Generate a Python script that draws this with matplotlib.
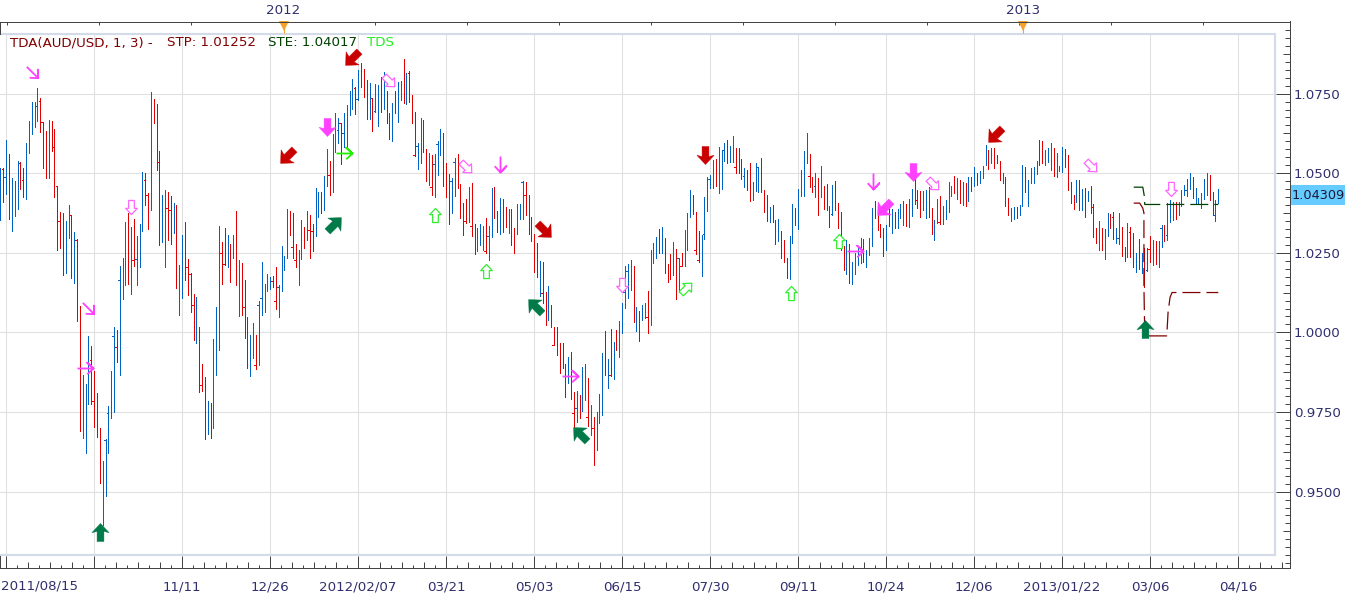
import numpy as np
import matplotlib
matplotlib.use("Agg")
import matplotlib.pyplot as plt
from matplotlib.markers import MarkerStyle
from matplotlib.patches import Rectangle
from matplotlib.path import Path
from matplotlib.transforms import Affine2D

# daily bars of AUD/USD
highs = [
    1.0516, 1.0516, 1.0604, 1.0560, 1.0485, 1.0476, 1.0539, 1.0535, 1.0516, 1.0595,
    1.0664, 1.0724, 1.0724, 1.0767, 1.0736, 1.0658, 1.0633, 1.0667, 1.0664, 1.0639,
    1.0460, 1.0378, 1.0375, 1.0350, 1.0400, 1.0369, 1.0316, 1.0294, 1.0083, 0.9866,
    0.9838, 0.9989, 0.9958, 0.9879, 0.9810, 0.9700, 0.9596, 0.9666, 0.9769, 0.9879,
    1.0017, 1.0008, 1.0209, 1.0234, 1.0347, 1.0375, 1.0331, 1.0356, 1.0303, 1.0341,
    1.0504, 1.0501, 1.0438, 1.0755, 1.0733, 1.0717, 1.0570, 1.0432, 1.0447, 1.0441,
    1.0429, 1.0407, 1.0400, 1.0212, 1.0306, 1.0347, 1.0231, 1.0187, 1.0121, 1.0111,
    1.0017, 0.9901, 0.9860, 0.9785, 0.9779, 0.9980, 1.0080, 1.0334, 1.0284, 1.0328,
    1.0306, 1.0278, 1.0306, 1.0381, 1.0228, 1.0218, 1.0165, 1.0049, 0.9992, 1.0030,
    0.9992, 1.0099, 1.0221, 1.0152, 1.0184, 1.0174, 1.0177, 1.0206, 1.0149, 1.0272,
    1.0240, 1.0388, 1.0381, 1.0375, 1.0278, 1.0259, 1.0353, 1.0331, 1.0381, 1.0369,
    1.0341, 1.0454, 1.0441, 1.0441, 1.0491, 1.0576, 1.0539, 1.0623, 1.0689, 1.0673,
    1.0658, 1.0689, 1.0714, 1.0758, 1.0796, 1.0771, 1.0824, 1.0846, 1.0827, 1.0793,
    1.0783, 1.0736, 1.0780, 1.0777, 1.0802, 1.0818, 1.0758, 1.0689, 1.0721, 1.0758,
    1.0787, 1.0790, 1.0859, 1.0815, 1.0821, 1.0746, 1.0692, 1.0595, 1.0673, 1.0667,
    1.0576, 1.0564, 1.0557, 1.0560, 1.0601, 1.0639, 1.0626, 1.0532, 1.0498, 1.0485,
    1.0548, 1.0560, 1.0466, 1.0407, 1.0419, 1.0457, 1.0469, 1.0341, 1.0328, 1.0341,
    1.0334, 1.0359, 1.0334, 1.0454, 1.0457, 1.0381, 1.0422, 1.0419, 1.0394, 1.0388,
    1.0388, 1.0328, 1.0403, 1.0403, 1.0476, 1.0473, 1.0432, 1.0363, 1.0309, 1.0281,
    1.0224, 1.0221, 1.0127, 1.0146, 1.0086, 1.0017, 1.0017, 0.9967, 0.9967, 0.9901,
    0.9923, 0.9939, 0.9813, 0.9816, 0.9804, 0.9892, 0.9901, 0.9857, 0.9772, 0.9735,
    0.9750, 0.9807, 0.9936, 1.0005, 0.9917, 1.0011, 0.9970, 1.0008, 1.0036, 1.0093,
    1.0209, 1.0215, 1.0228, 1.0209, 1.0080, 1.0067, 1.0086, 1.0093, 1.0130, 1.0259,
    1.0281, 1.0300, 1.0325, 1.0331, 1.0297, 1.0215, 1.0246, 1.0284, 1.0262, 1.0234,
    1.0250, 1.0322, 1.0375, 1.0447, 1.0432, 1.0378, 1.0319, 1.0306, 1.0425, 1.0488,
    1.0494, 1.0542, 1.0545, 1.0582, 1.0573, 1.0595, 1.0604, 1.0586, 1.0617, 1.0579,
    1.0579, 1.0545, 1.0516, 1.0510, 1.0532, 1.0473, 1.0532, 1.0520, 1.0548, 1.0447,
    1.0432, 1.0394, 1.0400, 1.0353, 1.0356, 1.0319, 1.0290, 1.0234, 1.0303, 1.0403,
    1.0391, 1.0451, 1.0510, 1.0570, 1.0626, 1.0560, 1.0488, 1.0501, 1.0485, 1.0523,
    1.0460, 1.0466, 1.0397, 1.0463, 1.0476, 1.0407, 1.0378, 1.0272, 1.0290, 1.0278,
    1.0221, 1.0250, 1.0268, 1.0297, 1.0294, 1.0259, 1.0297, 1.0391, 1.0413, 1.0385,
    1.0341, 1.0328, 1.0337, 1.0407, 1.0388, 1.0378, 1.0388, 1.0403, 1.0413, 1.0403,
    1.0419, 1.0451, 1.0482, 1.0447, 1.0444, 1.0444, 1.0447, 1.0457, 1.0391, 1.0353,
    1.0419, 1.0429, 1.0397, 1.0416, 1.0473, 1.0460, 1.0491, 1.0485, 1.0479, 1.0473,
    1.0469, 1.0488, 1.0488, 1.0520, 1.0501, 1.0507, 1.0523, 1.0589, 1.0573, 1.0579,
    1.0579, 1.0557, 1.0539, 1.0501, 1.0488, 1.0422, 1.0391, 1.0394, 1.0394, 1.0400,
    1.0526, 1.0520, 1.0479, 1.0516, 1.0520, 1.0539, 1.0604, 1.0601, 1.0573, 1.0579,
    1.0595, 1.0579, 1.0564, 1.0523, 1.0582, 1.0576, 1.0557, 1.0473, 1.0432, 1.0479,
    1.0479, 1.0451, 1.0454, 1.0444, 1.0460, 1.0403, 1.0328, 1.0350, 1.0328, 1.0325,
    1.0375, 1.0372, 1.0378, 1.0328, 1.0375, 1.0331, 1.0268, 1.0344, 1.0331, 1.0312,
    1.0250, 1.0294, 1.0250, 1.0265, 1.0265, 1.0303, 1.0290, 1.0287, 1.0287, 1.0337,
    1.0337, 1.0407, 1.0416, 1.0410, 1.0410, 1.0410, 1.0447, 1.0463, 1.0482, 1.0501,
    1.0488, 1.0454, 1.0422, 1.0438, 1.0482, 1.0501, 1.0494, 1.0441, 1.0416, 1.0451,
]
lows = [
    1.0353, 1.0410, 1.0435, 1.0356, 1.0319, 1.0366, 1.0388, 1.0451, 1.0425, 1.0419,
    1.0564, 1.0623, 1.0645, 1.0664, 1.0629, 1.0516, 1.0485, 1.0485, 1.0570, 1.0425,
    1.0259, 1.0265, 1.0181, 1.0187, 1.0297, 1.0171, 1.0155, 1.0036, 0.9691, 0.9669,
    0.9622, 0.9775, 0.9775, 0.9703, 0.9672, 0.9527, 0.9395, 0.9487, 0.9622, 0.9732,
    0.9750, 0.9907, 0.9866, 1.0105, 1.0149, 1.0152, 1.0121, 1.0209, 1.0149, 1.0206,
    1.0319, 1.0400, 1.0325, 1.0385, 1.0658, 1.0510, 1.0275, 1.0284, 1.0206, 1.0290,
    1.0278, 1.0312, 1.0140, 1.0055, 1.0108, 1.0165, 1.0118, 1.0064, 0.9976, 0.9967,
    0.9813, 0.9816, 0.9666, 0.9681, 0.9669, 0.9700, 0.9866, 0.9945, 1.0152, 1.0212,
    1.0206, 1.0159, 1.0234, 1.0149, 1.0052, 1.0055, 0.9983, 0.9888, 0.9863, 0.9920,
    0.9885, 0.9898, 1.0055, 1.0064, 1.0130, 1.0137, 1.0143, 1.0074, 1.0049, 1.0130,
    1.0196, 1.0234, 1.0306, 1.0234, 1.0206, 1.0149, 1.0231, 1.0265, 1.0290, 1.0234,
    1.0256, 1.0303, 1.0363, 1.0375, 1.0385, 1.0460, 1.0432, 1.0441, 1.0567, 1.0595,
    1.0529, 1.0582, 1.0579, 1.0683, 1.0702, 1.0686, 1.0730, 1.0771, 1.0739, 1.0670,
    1.0670, 1.0633, 1.0692, 1.0648, 1.0692, 1.0702, 1.0658, 1.0608, 1.0601, 1.0689,
    1.0661, 1.0730, 1.0721, 1.0717, 1.0724, 1.0658, 1.0554, 1.0513, 1.0532, 1.0567,
    1.0476, 1.0463, 1.0432, 1.0425, 1.0494, 1.0557, 1.0460, 1.0425, 1.0341, 1.0375,
    1.0429, 1.0454, 1.0359, 1.0306, 1.0344, 1.0347, 1.0303, 1.0246, 1.0256, 1.0275,
    1.0259, 1.0250, 1.0228, 1.0300, 1.0359, 1.0316, 1.0309, 1.0316, 1.0331, 1.0312,
    1.0275, 1.0250, 1.0309, 1.0356, 1.0356, 1.0369, 1.0309, 1.0287, 1.0190, 1.0174,
    1.0115, 1.0093, 1.0024, 1.0039, 1.0017, 0.9961, 0.9929, 0.9873, 0.9888, 0.9797,
    0.9841, 0.9791, 0.9700, 0.9719, 0.9732, 0.9753, 0.9788, 0.9706, 0.9678, 0.9584,
    0.9631, 0.9716, 0.9741, 0.9866, 0.9826, 0.9863, 0.9854, 0.9945, 0.9923, 0.9998,
    1.0077, 1.0108, 1.0133, 1.0033, 1.0005, 0.9973, 1.0039, 1.0045, 0.9998, 1.0024,
    1.0218, 1.0234, 1.0250, 1.0250, 1.0187, 1.0159, 1.0168, 1.0181, 1.0105, 1.0127,
    1.0209, 1.0209, 1.0259, 1.0363, 1.0372, 1.0246, 1.0221, 1.0177, 1.0294, 1.0381,
    1.0454, 1.0454, 1.0460, 1.0438, 1.0451, 1.0538, 1.0532, 1.0535, 1.0535, 1.0501,
    1.0501, 1.0482, 1.0457, 1.0447, 1.0413, 1.0416, 1.0444, 1.0441, 1.0441, 1.0378,
    1.0350, 1.0347, 1.0347, 1.0278, 1.0287, 1.0234, 1.0221, 1.0171, 1.0168, 1.0281,
    1.0337, 1.0325, 1.0429, 1.0429, 1.0532, 1.0457, 1.0441, 1.0425, 1.0369, 1.0425,
    1.0388, 1.0385, 1.0331, 1.0369, 1.0385, 1.0328, 1.0259, 1.0196, 1.0184, 1.0155,
    1.0152, 1.0184, 1.0212, 1.0218, 1.0221, 1.0206, 1.0243, 1.0272, 1.0359, 1.0322,
    1.0300, 1.0240, 1.0259, 1.0334, 1.0312, 1.0328, 1.0328, 1.0359, 1.0337, 1.0334,
    1.0331, 1.0366, 1.0403, 1.0391, 1.0363, 1.0385, 1.0359, 1.0363, 1.0309, 1.0290,
    1.0344, 1.0341, 1.0341, 1.0356, 1.0378, 1.0429, 1.0438, 1.0419, 1.0407, 1.0400,
    1.0397, 1.0413, 1.0444, 1.0460, 1.0463, 1.0469, 1.0485, 1.0526, 1.0513, 1.0532,
    1.0516, 1.0532, 1.0479, 1.0469, 1.0397, 1.0369, 1.0350, 1.0356, 1.0359, 1.0369,
    1.0397, 1.0441, 1.0397, 1.0469, 1.0469, 1.0498, 1.0526, 1.0532, 1.0526, 1.0535,
    1.0510, 1.0491, 1.0488, 1.0507, 1.0504, 1.0520, 1.0447, 1.0407, 1.0388, 1.0410,
    1.0385, 1.0385, 1.0363, 1.0413, 1.0375, 1.0300, 1.0281, 1.0259, 1.0259, 1.0231,
    1.0303, 1.0328, 1.0294, 1.0281, 1.0278, 1.0240, 1.0224, 1.0237, 1.0237, 1.0206,
    1.0190, 1.0199, 1.0187, 1.0143, 1.0193, 1.0221, 1.0212, 1.0215, 1.0206, 1.0268,
    1.0287, 1.0290, 1.0347, 1.0353, 1.0356, 1.0369, 1.0397, 1.0432, 1.0429, 1.0451,
    1.0422, 1.0403, 1.0403, 1.0391, 1.0419, 1.0432, 1.0416, 1.0369, 1.0350, 1.0407,
]
# U for a rising bar, D for a falling one
bar_dirs = (
    "UDUDUUUDDU" "UUUUDDDUDD" "DDDUUDUDDU" "UUDDDDUUUU" "UDUUUDUDUU"
    "UDDUDDDUUD" "DUDUUDDDDU" "DDDUDUUUDD" "UDUDUDDDUU" "DUUUUUDDUU"
    "UUDDDUUDUD" "DUUDUUDUUU" "DUUUUDUDDD" "UDUUDUDDUD" "UUDUDDDUUD"
    "DUDUUUDDDU" "UDDDDUDDUU" "UDUUDDUDDU" "DDUUUDDDDD" "UDDUDDDDDD"
    "UDDUDUUDUD" "UUUDUDUDUU" "UUUDUDUUDU" "UUDUDDDUDU" "DUUUDDDUUU"
    "UUDUUUDUUD" "DDUDDUUUDD" "DUDDUDDDUU" "DUUUUDDUDU" "DDDUDDDDUD"
    "UUUUDUUUDD" "DDUDUDUUUD" "UUDDDUUDDU" "UDUUUUDUDU" "DUDUDUUUDU"
    "DDDUDDUUDU" "UDUUUUDDUU" "UDUUUDDDDU" "DUDUDDDUDU" "UDDUUDDUDD"
    "UDUDUDUDUU" "DUUUDUUUUU" "DUUUUUDDUU"
)

# small side ticks on some bars
tick_idx = [
    1, 2, 7, 8, 13, 14, 15, 19, 20, 21, 25, 27, 32, 33, 37, 38, 40, 41, 42, 47,
    48, 51, 52, 56, 59, 60, 66, 67, 68, 71, 78, 79, 86, 90, 91, 92, 96, 97, 98, 103,
    104, 109, 110, 116, 119, 120, 121, 125, 126, 131, 132, 144, 146, 147, 152, 153, 154, 159, 160, 164,
    166, 171, 172, 184, 185, 191, 195, 202, 203, 207, 209, 215, 220, 221, 228, 239, 240, 245, 246, 248,
    250, 255, 259, 262, 267, 285, 287, 293, 323, 331, 385, 392, 394, 398, 404, 405, 409, 411, 418, 428,
]
tick_prices = [
    1.0513, 1.0488, 1.0532, 1.0479, 1.0711, 1.0727, 1.0661, 1.0582, 1.0460, 1.0350,
    1.0369, 1.0290, 0.9914, 0.9785, 0.9662, 0.9747, 0.9989, 0.9954, 1.0165, 1.0228,
    1.0231, 1.0479, 1.0432, 1.0535, 1.0391, 1.0385, 1.0206, 1.0184, 1.0086, 0.9835,
    1.0250, 1.0215, 1.0080, 0.9898, 1.0086, 1.0108, 1.0162, 1.0099, 1.0143, 1.0268,
    1.0228, 1.0322, 1.0319, 1.0494, 1.0636, 1.0658, 1.0626, 1.0768, 1.0733, 1.0736,
    1.0695, 1.0815, 1.0557, 1.0586, 1.0457, 1.0529, 1.0592, 1.0476, 1.0535, 1.0350,
    1.0334, 1.0256, 1.0303, 1.0473, 1.0432, 1.0124, 0.9961, 0.9747, 0.9763, 0.9735,
    0.9700, 0.9866, 1.0127, 1.0193, 1.0049, 1.0234, 1.0209, 1.0259, 1.0228, 1.0309,
    1.0482, 1.0573, 1.0520, 1.0491, 1.0520, 1.0491, 1.0460, 1.0372, 1.0416, 1.0347,
    1.0394, 1.0363, 1.0297, 1.0316, 1.0196, 1.0262, 1.0328, 1.0306, 1.0447, 1.0369,
]

# trailing stop lines
stp_idx = [399.2, 401.3, 402.4, 402.8, 402.8, 403.1, 404.0, 410.8, 411.0, 411.3, 412.0, 412.7, 429.0]
stp_prices = [1.0406, 1.0406, 1.0390, 1.0375, 1.0143, 0.9989, 0.9989, 0.9989, 1.0014, 1.0063, 1.0110, 1.01252, 1.01252]
ste_idx = [399.2, 402.4, 402.9, 403.1, 429.0]
ste_prices = [1.0456, 1.0456, 1.0430, 1.04017, 1.04017]

# trade signals
sig_idx = [
    11.1, 46.0, 30.8, 29.8, 35.0, 100.9, 115.0, 121.0, 123.8, 117.5, 136.8,
    153.1, 164.0, 175.9, 171.0, 191.4, 188.3, 200.6, 204.1, 219.0, 241.5, 248.1,
    278.5, 295.3, 301.0, 307.3, 311.2, 321.4, 328.5, 350.3, 384.1, 403.1, 412.3,
]
sig_prices = [
    1.0818, 1.0394, 1.0077, 0.9888, 0.9374, 1.0554, 1.0645, 1.0564, 1.0862, 1.0341, 1.0790,
    1.0369, 1.0520, 1.0529, 1.0193, 1.0322, 1.0083, 0.9863, 0.9681, 1.0149, 1.0140, 1.0557,
    1.0124, 1.0287, 1.0256, 1.0476, 1.0391, 1.0504, 1.0466, 1.0620, 1.0523, 1.0011, 1.0451,
]
sig_dirs = [
    "SE", "S", "SE", "E", "N", "SW", "S", "E", "SW", "NE", "SE",
    "N", "SE", "S", "N", "SE", "NW", "E", "NW", "S", "NE", "S",
    "N", "N", "E", "S", "SW", "S", "SE", "SW", "SE", "N", "S",
]
sig_types = [
    "thin_pink", "hollow_pink", "thin_pink", "thin_pink", "bold_green", "bold_red", "bold_pink",
    "thin_lime", "bold_red", "bold_green", "hollow_pink",
    "hollow_lime", "hollow_pink", "thin_pink", "hollow_lime", "bold_red", "bold_green", "thin_pink",
    "bold_green", "hollow_pink", "hollow_lime", "bold_red",
    "hollow_lime", "hollow_lime", "thin_pink", "thin_pink", "bold_pink", "bold_pink", "hollow_pink",
    "bold_red", "hollow_pink", "bold_green", "hollow_pink",
]

date_labels = ["", "", "11/11", "12/26", "2012/02/07", "03/21", "05/03", "06/15",
               "07/30", "09/11", "10/24", "12/06", "2013/01/22", "03/06", "04/16"]
first_date = "2011/08/15"
year_labels = ["2012", "2013"]
year_idx = [99.7, 360.2]
price_labels = [0.95, 0.975, 1.0, 1.025, 1.05, 1.075]
last_price = 1.04309
stp_value = "1.01252"
ste_value = "1.04017"

W, H = 1354, 597
BAR_STEP = 88 / 31  # pixels per bar
TEXT = "#2f2f6e"
AXIS = "#444444"
ONE_PX = 0.72


def place(left, top, right, bottom):
    ax = fig.add_axes([left / W, 1 - bottom / H, (right - left) / W, (bottom - top) / H])
    ax.patch.set_visible(False)
    return ax


def px_to_bar(x):
    return (x - 0.5) / BAR_STEP


def arrow_shape(kind):
    if kind == "bold":
        return Path([(0, 1), (0.95, -0.02), (0.38, 0.12), (0.38, -1), (-0.38, -1),
                     (-0.38, 0.12), (-0.95, -0.02), (0, 1)], closed=True)
    if kind == "hollow":
        return Path([(0, 1), (0.82, 0.12), (0.4, 0.12), (0.4, -1), (-0.4, -1),
                     (-0.4, 0.12), (-0.82, 0.12), (0, 1)], closed=True)
    return Path([(0, -1), (0, 1), (-0.72, 0.22), (0, 1), (0.72, 0.22)])


ROTATION = {"N": 0, "NE": -45, "E": -90, "SE": -135, "S": 180, "SW": 135, "NW": 45}
SIGNAL_STYLE = {
    "bold_red": ("bold", "#c80000", "#c80000", 13.0, 0.3),
    "bold_green": ("bold", "#007a48", "#007a48", 13.0, 0.3),
    "bold_pink": ("bold", "#ff40ff", "#ff40ff", 13.0, 0.3),
    "thin_pink": ("thin", "none", "#ff40ff", 11.5, 1.3),
    "thin_lime": ("thin", "none", "#22ee00", 11.5, 1.3),
    "hollow_pink": ("hollow", "white", "#ff66ff", 10.2, 0.9),
    "hollow_lime": ("hollow", "white", "#33ee33", 10.2, 0.9),
}
SLANT_SCALE = {"bold": 1.08, "hollow": 1.05, "thin": 1.0}

plt.rcParams["font.family"] = "DejaVu Sans"
plt.rcParams["font.size"] = 9.6

fig = plt.figure(figsize=(W / 100, H / 100), dpi=100)

# main price panel
ax = place(0, 34, 1275, 555)
ax.set_xlim(px_to_bar(0), px_to_bar(1275))
ax.set_ylim(0.9301, 1.0937)
ax.set_xticks([2 + 31 * k for k in range(15)])
ax.set_yticks(price_labels)
ax.tick_params(length=0, labelbottom=False, labelleft=False)
ax.grid(True, color="#e0e0e0", linewidth=0.8)
ax.set_axisbelow(True)
for name, spine in ax.spines.items():
    spine.set_color("#d3dbe8")
    spine.set_linewidth(1.5)
ax.spines["left"].set_visible(False)

bar_x = np.arange(len(highs))
bar_colors = ["#0062c4" if d == "U" else "#e00000" for d in bar_dirs]
ax.vlines(bar_x, lows, highs, colors=bar_colors, linewidth=ONE_PX, antialiased=False, zorder=3)
tick_colors = [bar_colors[i] for i in tick_idx]
ax.hlines(tick_prices, np.array(tick_idx) - 0.6, tick_idx, colors=tick_colors,
          linewidth=ONE_PX, antialiased=False, zorder=3)

ax.plot(stp_idx, stp_prices, color="#800000", linewidth=0.9, linestyle=(0, (14.4, 4.8)), zorder=4)
ax.plot(ste_idx, ste_prices, color="#004000", linewidth=0.9, linestyle=(0, (14.4, 4.8)), zorder=4)

for i, p, d, t in zip(sig_idx, sig_prices, sig_dirs, sig_types):
    kind, face, edge, size, width = SIGNAL_STYLE[t]
    if len(d) == 2:
        size = size * SLANT_SCALE[kind]  # the slanted icons reach further along their length
    marker = MarkerStyle(arrow_shape(kind), transform=Affine2D().rotate_deg(ROTATION[d]))
    ax.plot([i], [p], linestyle="none", marker=marker, markersize=size,
            markerfacecolor=face, markeredgecolor=edge, markeredgewidth=width, zorder=5)

# heading
top_y = 1 - 43 / H
fig.text(10 / W, top_y, "TDA(AUD/USD, 1, 3) -", color="#800000", va="center")
fig.text(167 / W, top_y, "STP: " + stp_value, color="#800000", va="center")
fig.text(268 / W, top_y, "STE: " + ste_value, color="#004000", va="center")
fig.text(367 / W, top_y, "TDS", color="#22ee22", va="center")

# date axis under the panel
ax_b = place(0, 556, 1289.5, 568)
ax_b.set_xlim(px_to_bar(0), px_to_bar(1289.5))
ax_b.set_ylim(0, 12)
ax_b.spines["top"].set_visible(False)
ax_b.set_yticks([])
for name in ("left", "bottom", "right"):
    ax_b.spines[name].set_color(AXIS)
    ax_b.spines[name].set_linewidth(ONE_PX)
tick_pos = 2 + 3.875 * np.arange(117)
ax_b.set_xticks(tick_pos[::8], date_labels)
ax_b.tick_params(axis="x", direction="in", length=8.64, width=ONE_PX, color=AXIS,
                 labelcolor=TEXT, pad=9)
ax_b.set_xticks(tick_pos[::2], minor=True)
ax_b.tick_params(axis="x", which="minor", direction="in", length=4.3, width=ONE_PX, color=AXIS)
ax_b.vlines(tick_pos[1::2], 0, 3, color=AXIS, linewidth=ONE_PX)
ax_b.annotate(first_date, xy=(0, 0), xycoords="axes fraction", xytext=(1, -18),
              textcoords="offset pixels", color=TEXT, ha="left", va="center")

# year axis above the panel
ax_t = place(0, 21.5, 1289.5, 34)
ax_t.set_xlim(px_to_bar(0), px_to_bar(1289.5))
ax_t.set_ylim(0, 12.5)
ax_t.spines["bottom"].set_visible(False)
ax_t.spines["right"].set_visible(False)
for name in ("top", "left"):
    ax_t.spines[name].set_color(AXIS)
    ax_t.spines[name].set_linewidth(ONE_PX)
ax_t.set_yticks([])
ax_t.xaxis.tick_top()
ax_t.set_xticks(year_idx, year_labels)
ax_t.tick_params(axis="x", length=0, labelcolor=TEXT, pad=3.5)
ax_t.vlines(px_to_bar(7 + 92 * np.arange(14)), 9.5, 12.5, color=AXIS, linewidth=ONE_PX)
ax_t.plot(year_idx, [8.5, 8.5], linestyle="none", marker="v", markersize=7.5,
          color="#f5a22d", markeredgewidth=0, clip_on=False)
ax_t.vlines(year_idx, 1, 6, color="#f5a22d", linewidth=0.8)

# price axis at the right
ax_r = place(1275, 21.5, 1289.5, 568)
ax_r.set_xlim(0, 14.5)
ax_r.set_ylim(0.9260, 1.09765)
for name in ("top", "left", "bottom"):
    ax_r.spines[name].set_visible(False)
ax_r.spines["right"].set_color(AXIS)
ax_r.spines["right"].set_linewidth(ONE_PX)
ax_r.set_xticks([])
ax_r.yaxis.tick_right()
ax_r.set_yticks(price_labels, ["%.4f" % p for p in price_labels])
ax_r.tick_params(axis="y", direction="in", length=10.1, width=ONE_PX, color=AXIS,
                 labelcolor=TEXT, pad=3)
ax_r.set_yticks(0.9275 + 0.0025 * np.arange(68), minor=True)
ax_r.tick_params(axis="y", which="minor", direction="in", length=3.6, width=ONE_PX, color=AXIS)
ax_r.hlines(0.9375 + 0.025 * np.arange(7), 7.5, 14.5, color=AXIS, linewidth=ONE_PX)

# last price tag
fig.add_artist(Rectangle((1290 / W, 1 - 205 / H), 55 / W, 20 / H, transform=fig.transFigure,
                         facecolor="#66ccff", edgecolor="none", zorder=-1))
ax_r.annotate("%.5f" % last_price, xy=(1, last_price), xycoords=("axes fraction", "data"),
              xytext=(1.8, 0), textcoords="offset points", color="#1a1a3a", va="center", ha="left",
              fontsize=9.3, annotation_clip=False, zorder=6)

fig.savefig("out.png", dpi=100)
